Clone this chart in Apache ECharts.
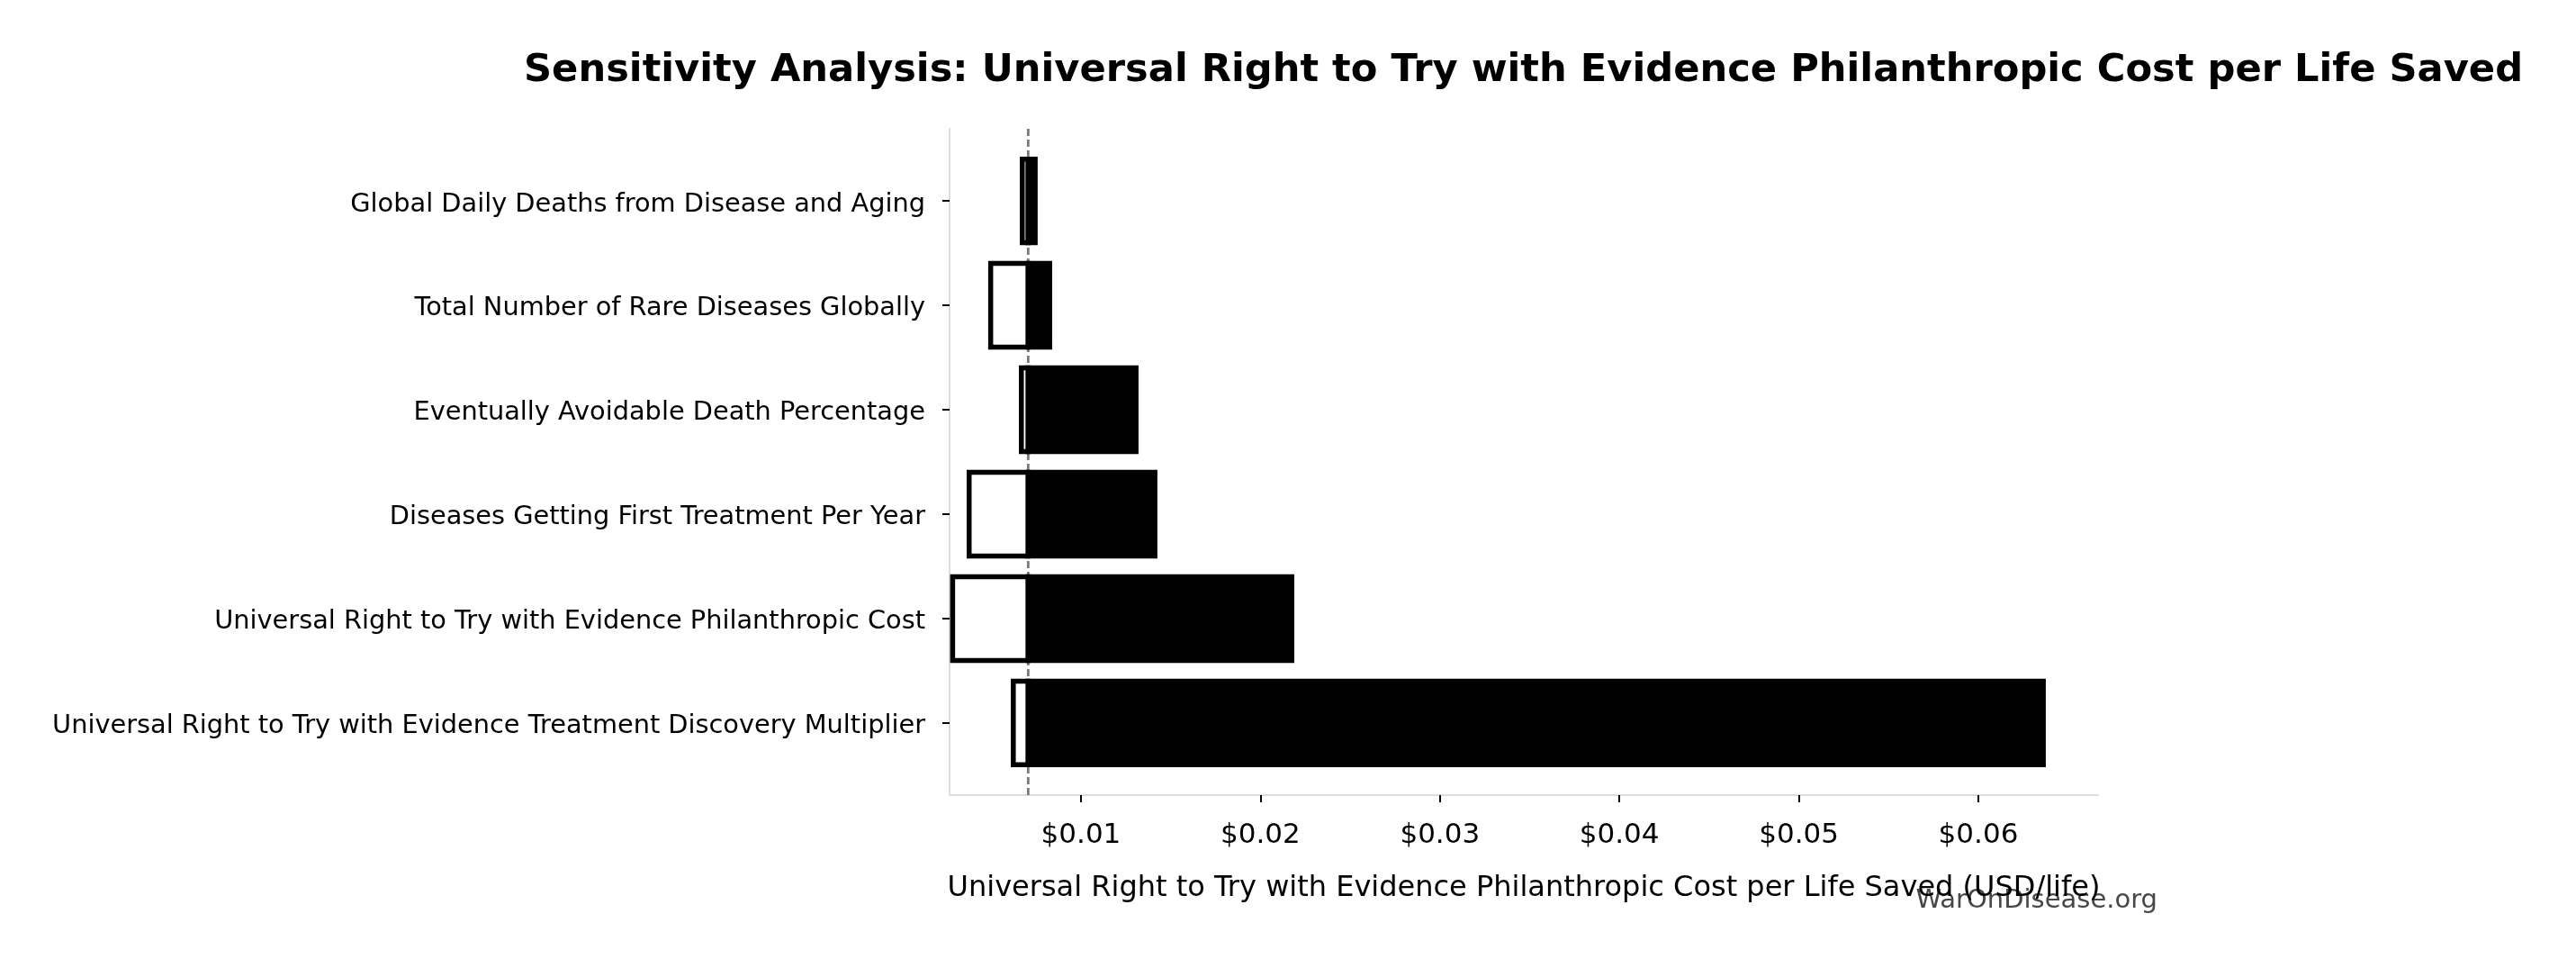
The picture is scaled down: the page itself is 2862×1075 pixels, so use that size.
<!DOCTYPE html>
<html>
<head>
<meta charset="utf-8">
<title>Sensitivity Analysis</title>
<script src="https://cdn.jsdelivr.net/npm/echarts@6/dist/echarts.min.js"></script>
<style>
  html, body { margin: 0; padding: 0; background: #fff; }
  #chart { width: 2862px; height: 1075px; }
</style>
</head>
<body>
<div id="chart"></div>
<script>
  // parameters, top to bottom
  var categories = [
    'Global Daily Deaths from Disease and Aging',
    'Total Number of Rare Diseases Globally',
    'Eventually Avoidable Death Percentage',
    'Diseases Getting First Treatment Per Year',
    'Universal Right to Try with Evidence Philanthropic Cost',
    'Universal Right to Try with Evidence Treatment Discovery Multiplier'
  ];
  // cost per life saved at the low / high input value (USD/life)
  var lowValues = [0.00673, 0.00497, 0.00668, 0.00377, 0.00285, 0.00623];
  var highValues = [0.00745, 0.00826, 0.01307, 0.01412, 0.02175, 0.06362];
  var baseValue = 0.00706;
  var xTicks = [0.01, 0.02, 0.03, 0.04, 0.05, 0.06];
  var yTicks = [0, 1, 2, 3, 4, 5];

  var font = 'DejaVu Sans';
  var chart = echarts.init(document.getElementById('chart'), null, {renderer: 'canvas'});

  var barData = [];
  for (var i = 0; i < categories.length; i++) {
    barData.push([i, lowValues[i], highValues[i], baseValue]);
  }

  function drawBar(params, api) {
    var idx = api.value(0);
    var h = api.size([0, 0.8])[1];
    var pLow = api.coord([api.value(1), idx]);
    var pHigh = api.coord([api.value(2), idx]);
    var pBase = api.coord([api.value(3), idx]);
    var top = pBase[1] - h / 2;
    return {
      type: 'group',
      children: [{
        type: 'rect',
        shape: {x: pLow[0], y: top, width: pBase[0] - pLow[0], height: h},
        style: {fill: '#ffffff', stroke: '#000000', lineWidth: 5.5}
      }, {
        type: 'rect',
        shape: {x: pBase[0], y: top, width: pHigh[0] - pBase[0], height: h},
        style: {fill: '#000000', stroke: '#000000', lineWidth: 5.5}
      }]
    };
  }

  var option = {
    backgroundColor: '#ffffff',
    animation: false,
    title: {
      text: 'Sensitivity Analysis: Universal Right to Try with Evidence Philanthropic Cost per Life Saved',
      left: 577,
      top: 52,
      textStyle: {fontFamily: font, fontSize: 43.2, fontWeight: 'bold', color: '#000'}
    },
    grid: {left: 1055, right: 531, top: 143, bottom: 192},
    xAxis: {
      type: 'value',
      min: 0.00268,
      max: 0.06667,
      name: 'Universal Right to Try with Evidence Philanthropic Cost per Life Saved (USD/life)',
      nameLocation: 'middle',
      nameGap: 88,
      nameTextStyle: {fontFamily: font, fontSize: 32, color: '#000'},
      axisLine: {show: true, onZero: false, lineStyle: {color: '#dddddd', width: 2}},
      axisTick: {show: true, customValues: xTicks, length: 8, lineStyle: {color: '#000', width: 2}},
      axisLabel: {
        customValues: xTicks,
        margin: 29,
        fontFamily: font,
        fontSize: 31,
        color: '#000',
        formatter: function (v) { return '$' + v.toFixed(2); }
      },
      splitLine: {show: false}
    },
    yAxis: {
      type: 'value',
      inverse: true,
      min: -0.69,
      max: 5.69,
      axisLine: {show: true, onZero: false, lineStyle: {color: '#dddddd', width: 2}},
      axisTick: {show: true, customValues: yTicks, length: 8, lineStyle: {color: '#000', width: 2}},
      axisLabel: {
        customValues: yTicks,
        margin: 27,
        fontFamily: font,
        fontSize: 28.8,
        color: '#000',
        formatter: function (v) { return '{l|' + (categories[Math.round(v)] || '') + '}'; },
        rich: {
          l: {fontFamily: font, fontSize: 28.8, color: '#000', padding: [8, 0, 0, 0]}
        }
      },
      splitLine: {show: false}
    },
    series: [{
      type: 'line',
      data: [[baseValue, -0.69], [baseValue, 5.69]],
      symbol: 'none',
      silent: true,
      z: 1,
      lineStyle: {color: '#7a7a7a', width: 2.8, type: [8, 4]}
    }, {
      type: 'custom',
      renderItem: drawBar,
      data: barData,
      encode: {x: [1, 2, 3], y: 0},
      z: 2
    }],
    graphic: [{
      type: 'text',
      right: 2862 - 2397,
      top: 986,
      style: {
        text: 'WarOnDisease.org',
        font: '29px "DejaVu Sans"',
        fill: '#333333',
        opacity: 0.9
      }
    }]
  };
  chart.setOption(option);
</script>
</body>
</html>
